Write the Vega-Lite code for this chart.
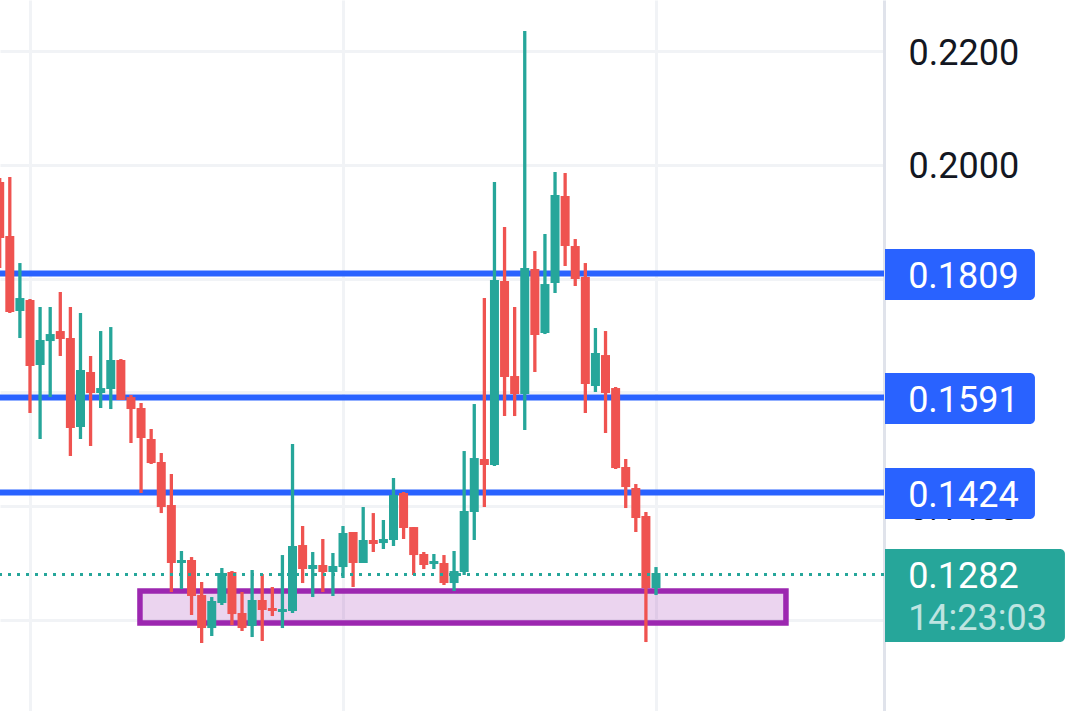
{
  "$schema": "https://vega.github.io/schema/vega-lite/v6.json",
  "width": 884,
  "height": 711,
  "autosize": "none",
  "padding": {"left": 0, "top": 0, "right": 196, "bottom": 0},
  "background": "white",
  "config": {"view": {"stroke": null}, "font": "Roboto"},
  "datasets": {
    "candles": [
      {"k":-3,"open":0.19698,"high":0.19768,"low":0.18186,"close":0.18714},
      {"k":-2,"open":0.18749,"high":0.19786,"low":0.17396,"close":0.17413},
      {"k":-1,"open":0.17431,"high":0.18274,"low":0.16956,"close":0.17659},
      {"k":0,"open":0.17624,"high":0.17642,"low":0.15638,"close":0.16464},
      {"k":1,"open":0.16482,"high":0.17501,"low":0.15181,"close":0.16921},
      {"k":2,"open":0.16903,"high":0.17501,"low":0.15919,"close":0.17026},
      {"k":3,"open":0.17079,"high":0.17765,"low":0.1664,"close":0.16939},
      {"k":4,"open":0.16956,"high":0.17501,"low":0.14882,"close":0.15374},
      {"k":5,"open":0.15392,"high":0.17396,"low":0.15181,"close":0.16394},
      {"k":6,"open":0.16359,"high":0.1664,"low":0.15058,"close":0.1599},
      {"k":7,"open":0.1599,"high":0.17079,"low":0.15726,"close":0.16077},
      {"k":8,"open":0.1606,"high":0.17149,"low":0.15708,"close":0.1657},
      {"k":9,"open":0.1657,"high":0.16587,"low":0.15867,"close":0.15867},
      {"k":10,"open":0.15919,"high":0.15954,"low":0.15111,"close":0.15708},
      {"k":11,"open":0.15726,"high":0.15814,"low":0.14232,"close":0.15199},
      {"k":12,"open":0.15181,"high":0.15357,"low":0.14742,"close":0.14759},
      {"k":13,"open":0.14777,"high":0.14935,"low":0.1388,"close":0.13986},
      {"k":14,"open":0.14021,"high":0.14566,"low":0.12492,"close":0.13002},
      {"k":15,"open":0.13002,"high":0.13213,"low":0.12545,"close":0.13055},
      {"k":16,"open":0.13055,"high":0.13107,"low":0.12088,"close":0.12422},
      {"k":17,"open":0.12439,"high":0.12668,"low":0.11596,"close":0.11859},
      {"k":18,"open":0.11859,"high":0.12404,"low":0.11719,"close":0.12334},
      {"k":19,"open":0.12299,"high":0.12914,"low":0.12264,"close":0.12826},
      {"k":20,"open":0.12844,"high":0.12861,"low":0.11912,"close":0.12105},
      {"k":21,"open":0.12123,"high":0.12492,"low":0.11807,"close":0.11859},
      {"k":22,"open":0.11895,"high":0.12879,"low":0.11701,"close":0.12352},
      {"k":23,"open":0.12352,"high":0.12808,"low":0.11631,"close":0.12176},
      {"k":24,"open":0.12211,"high":0.1258,"low":0.1207,"close":0.12158},
      {"k":25,"open":0.12141,"high":0.13142,"low":0.11859,"close":0.12193},
      {"k":26,"open":0.12158,"high":0.15093,"low":0.12123,"close":0.13301},
      {"k":27,"open":0.13318,"high":0.13652,"low":0.1265,"close":0.12896},
      {"k":28,"open":0.12896,"high":0.13195,"low":0.12404,"close":0.12967},
      {"k":29,"open":0.12967,"high":0.13424,"low":0.12492,"close":0.12844},
      {"k":30,"open":0.12844,"high":0.13178,"low":0.12422,"close":0.12949},
      {"k":31,"open":0.12931,"high":0.13652,"low":0.12738,"close":0.13529},
      {"k":32,"open":0.13547,"high":0.13547,"low":0.1258,"close":0.13002},
      {"k":33,"open":0.13002,"high":0.13986,"low":0.13002,"close":0.13406},
      {"k":34,"open":0.13406,"high":0.1388,"low":0.13195,"close":0.13336},
      {"k":35,"open":0.13353,"high":0.13758,"low":0.13248,"close":0.13424},
      {"k":36,"open":0.13406,"high":0.14496,"low":0.13301,"close":0.14197},
      {"k":37,"open":0.14232,"high":0.1425,"low":0.13424,"close":0.13617},
      {"k":38,"open":0.13634,"high":0.13634,"low":0.12791,"close":0.13142},
      {"k":39,"open":0.1316,"high":0.13195,"low":0.12896,"close":0.12967},
      {"k":40,"open":0.12984,"high":0.1316,"low":0.12896,"close":0.13037},
      {"k":41,"open":0.13002,"high":0.13142,"low":0.12615,"close":0.1265},
      {"k":42,"open":0.1265,"high":0.13213,"low":0.1251,"close":0.12861},
      {"k":43,"open":0.12844,"high":0.1497,"low":0.12791,"close":0.13916},
      {"k":44,"open":0.13898,"high":0.15796,"low":0.13406,"close":0.14847},
      {"k":45,"open":0.1483,"high":0.17659,"low":0.13986,"close":0.14724},
      {"k":46,"open":0.14724,"high":0.19698,"low":0.14707,"close":0.17976},
      {"k":47,"open":0.17958,"high":0.18907,"low":0.15585,"close":0.16271},
      {"k":48,"open":0.16288,"high":0.17501,"low":0.15585,"close":0.15972},
      {"k":49,"open":0.15972,"high":0.22352,"low":0.15339,"close":0.18186},
      {"k":50,"open":0.18169,"high":0.18485,"low":0.16359,"close":0.17009},
      {"k":51,"open":0.17044,"high":0.18784,"low":0.17026,"close":0.17905},
      {"k":52,"open":0.17923,"high":0.19874,"low":0.17747,"close":0.19469},
      {"k":53,"open":0.19452,"high":0.19856,"low":0.18222,"close":0.18573},
      {"k":54,"open":0.18573,"high":0.18696,"low":0.1787,"close":0.17993},
      {"k":55,"open":0.18028,"high":0.18274,"low":0.15638,"close":0.16148},
      {"k":56,"open":0.16113,"high":0.17132,"low":0.16007,"close":0.16693},
      {"k":57,"open":0.16657,"high":0.17079,"low":0.15287,"close":0.1599},
      {"k":58,"open":0.16077,"high":0.16095,"low":0.14654,"close":0.14671},
      {"k":59,"open":0.14689,"high":0.1483,"low":0.13968,"close":0.14337},
      {"k":60,"open":0.1432,"high":0.1439,"low":0.13547,"close":0.13793},
      {"k":61,"open":0.13828,"high":0.13898,"low":0.11613,"close":0.12562},
      {"k":62,"open":0.12562,"high":0.12931,"low":0.12439,"close":0.12826}
    ],
    "levels": [{"price":0.1809},{"price":0.1591},{"price":0.1424}],
    "zone": [{"k0":10.89,"k1":74.87,"lo":0.11947,"hi":0.1251}],
    "last": [{"price":0.128}],
    "boxes": [
      {"k0":84.68,"k1":99.53,"lo":0.17624,"hi":0.1852,"c":"#2962ff"},
      {"k0":84.68,"k1":99.53,"lo":0.15445,"hi":0.16341,"c":"#2962ff"},
      {"k0":84.68,"k1":99.53,"lo":0.13775,"hi":0.14671,"c":"#2962ff"},
      {"k0":84.68,"k1":102.5,"lo":0.11613,"hi":0.13248,"c":"#26a69a"}
    ],
    "labels": [
      {"k":86.97,"p":0.18028,"t":"0.1809","o":1},
      {"k":86.97,"p":0.15849,"t":"0.1591","o":1},
      {"k":86.97,"p":0.14179,"t":"0.1424","o":1},
      {"k":86.97,"p":0.12756,"t":"0.1282","o":1},
      {"k":86.97,"p":0.12018,"t":"14:23:03","o":0.7}
    ]
  },
  "layer": [
    {
      "data": {"name": "zone"},
      "mark": {"type": "rect", "fill": "#9c27b0", "fillOpacity": 0.2, "stroke": "#9c27b0", "strokeWidth": 5.5},
      "encoding": {
        "x": {
          "field": "k0",
          "type": "quantitative",
          "scale": {"domain": [-2.971, 84.58], "nice": false, "zero": false},
          "axis": {"values": [0, 31, 62], "grid": true, "gridColor": "#f1f3f6", "gridWidth": 3, "labels": false, "ticks": false, "domain": false, "title": null}
        },
        "x2": {"field": "k1"},
        "y": {
          "field": "lo",
          "type": "quantitative",
          "scale": {"domain": [0.10401, 0.22897], "nice": false, "zero": false},
          "axis": {
            "orient": "right",
            "values": [0.12, 0.14, 0.16, 0.18, 0.2, 0.22],
            "labelExpr": "datum.value >= 0.19 || abs(datum.value - 0.14) < 0.001 ? format(datum.value, '.4f') : ''",
            "title": null,
            "grid": true,
            "gridColor": "#f1f3f6",
            "gridWidth": 3,
            "ticks": false,
            "labelPadding": 24,
            "labelFontSize": 36,
            "labelOffset": 2,
            "labelColor": "#131722",
            "domainColor": "#e0e3eb",
            "domainWidth": 3
          }
        },
        "y2": {"field": "hi"}
      }
    },
    {
      "data": {"name": "levels"},
      "mark": {"type": "rule", "color": "#2962ff", "strokeWidth": 6},
      "encoding": {"y": {"field": "price", "type": "quantitative"}}
    },
    {
      "data": {"name": "candles"},
      "mark": {"type": "rule", "strokeWidth": 3.3},
      "encoding": {
        "x": {"field": "k", "type": "quantitative"},
        "y": {"field": "low", "type": "quantitative"},
        "y2": {"field": "high"},
        "color": {"condition": {"test": "datum.close >= datum.open", "value": "#26a69a"}, "value": "#ef5350"}
      }
    },
    {
      "data": {"name": "candles"},
      "mark": {"type": "rule", "strokeWidth": 9},
      "encoding": {
        "x": {"field": "k", "type": "quantitative"},
        "y": {"field": "open", "type": "quantitative"},
        "y2": {"field": "close"},
        "color": {"condition": {"test": "datum.close >= datum.open", "value": "#26a69a"}, "value": "#ef5350"}
      }
    },
    {
      "data": {"name": "last"},
      "mark": {"type": "rule", "color": "#26a69a", "strokeWidth": 3, "strokeDash": [3, 6]},
      "encoding": {"y": {"field": "price", "type": "quantitative"}}
    },
    {
      "data": {"name": "boxes"},
      "mark": {"type": "rect", "cornerRadiusTopRight": 5, "cornerRadiusBottomRight": 5},
      "encoding": {
        "x": {"field": "k0", "type": "quantitative"},
        "x2": {"field": "k1"},
        "y": {"field": "lo", "type": "quantitative"},
        "y2": {"field": "hi"},
        "fill": {"field": "c", "type": "nominal", "scale": null}
      }
    },
    {
      "data": {"name": "labels"},
      "mark": {"type": "text", "align": "left", "baseline": "middle", "fontSize": 36, "color": "white"},
      "encoding": {
        "x": {"field": "k", "type": "quantitative"},
        "y": {"field": "p", "type": "quantitative"},
        "text": {"field": "t", "type": "nominal"},
        "opacity": {"field": "o", "type": "quantitative", "scale": null}
      }
    }
  ]
}
